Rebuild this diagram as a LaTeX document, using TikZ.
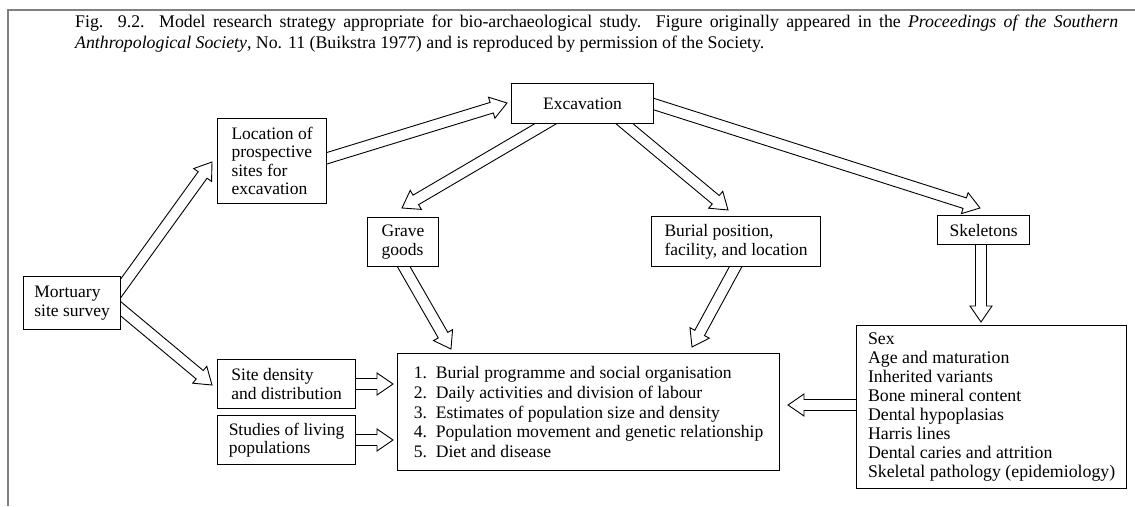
\documentclass[tikz,border=0pt]{standalone}
\usepackage{fontspec}
\setmainfont{Liberation Serif}
\usetikzlibrary{calc}
\pgfdeclarelayer{background}
\pgfsetlayers{background,main}

% dimensions of the hollow block arrows
\newcommand{\shafthalf}{5.5pt}
\newcommand{\headhalf}{11pt}
\newcommand{\headlen}{16pt}

% hollow block arrow from coordinate #1 to tip #2
\newcommand{\blockarrow}[2]{%
  \coordinate (#1-#2-h) at ($(#2)!\headlen!(#1)$);
  \filldraw[arrowbody]
    ($(#1)!\shafthalf!90:(#2)$) --
    ($(#1-#2-h)!\shafthalf!90:(#2)$) --
    ($(#1-#2-h)!\headhalf!90:(#2)$) --
    (#2) --
    ($(#1-#2-h)!\headhalf!-90:(#2)$) --
    ($(#1-#2-h)!\shafthalf!-90:(#2)$) --
    ($(#1)!\shafthalf!-90:(#2)$) -- cycle;
}

\tikzset{
  box/.style={draw, line width=1.2pt, fill=white, anchor=north west,
    align=left, inner sep=2pt, font=\fontsize{17.5}{18.5}\selectfont},
  listbox/.style={box, font=\fontsize{17.6}{19.8}\selectfont},
  arrowbody/.style={draw, fill=white, line width=0.9pt, line join=miter},
  frameline/.style={draw=black!50, line width=2pt},
  caption/.style={anchor=north west, inner sep=0pt, align=left,
    font=\fontsize{17.8}{21}\selectfont},
}

\newcommand{\itemno}[1]{\makebox[22pt][l]{#1}}

\begin{document}
\begin{tikzpicture}[x=1pt, y=-1pt]
\useasboundingbox (0,0) rectangle (1135,506);

% page frame
\draw[frameline] (8,506) -- (8,10) -- (1135,10);

% caption, first line justified to the full measure
\node[caption] (cap) at (75,15) {\makebox[1043pt][s]{Fig. 9.2. Model research strategy appropriate for bio-archaeological study. Figure originally appeared in the \textit{Proceedings of the Southern}}\\
\textit{Anthropological Society}, No. 11 (Buikstra 1977) and is reproduced by permission of the Society.};

% boxes
\node[box, minimum width=97pt, minimum height=53pt] (mort) at (23,276) {Mortuary\\site survey};
\node[box, minimum width=109pt, minimum height=85pt] (loc) at (217,118) {Location of\\prospective\\sites for\\excavation};
\node[box, minimum width=142pt, minimum height=40pt] (exc) at (511,83) {Excavation};
\node[box, minimum width=71pt, minimum height=49pt] (gg) at (367,217) {Grave\\goods};
\node[box, minimum width=169pt, minimum height=50pt] (bp) at (651,216) {Burial position,\\facility, and location};
\node[box, minimum width=92pt, minimum height=29pt] (sk) at (937,215) {Skeletons};
\node[box, minimum width=138pt, minimum height=49pt] (sd) at (217,359) {Site density\\and distribution};
\node[box, minimum width=138pt, minimum height=49pt] (slp) at (217,415) {Studies of living\\populations};
\node[listbox, minimum width=382pt, minimum height=117pt] (res) at (397,353) {%
  \itemno{1.}Burial programme and social organisation\\
  \itemno{2.}Daily activities and division of labour\\
  \itemno{3.}Estimates of population size and density\\
  \itemno{4.}Population movement and genetic relationship\\
  \itemno{5.}Diet and disease};
\node[box, font=\fontsize{17.8}{19.1}\selectfont, minimum width=270pt, minimum height=163pt] (ind) at (856,325) {%
  Sex\\
  Age and maturation\\
  Inherited variants\\
  Bone mineral content\\
  Dental hypoplasias\\
  Harris lines\\
  Dental caries and attrition\\
  Skeletal pathology (epidemiology)};

% arrow ends
\coordinate (a1s) at ([shift={(77,41)}]mort.north west);
\coordinate (a1t) at ([shift={(-5,44)}]loc.north west);
\coordinate (a2s) at ([shift={(77,15.5)}]mort.north west);
\coordinate (a2t) at ([shift={(-5,26)}]sd.north west);
\coordinate (a3s) at ([shift={(83,48.5)}]loc.north west);
\coordinate (a3t) at ([shift={(-4,20)}]exc.north west);
\coordinate (a4s) at ([shift={(58,27)}]exc.north west);
\coordinate (a4t) at ([shift={(35,-9)}]gg.north west);
\coordinate (a5s) at ([shift={(97,27)}]exc.north west);
\coordinate (a5t) at ([shift={(77,-6)}]bp.north west);
\coordinate (a6s) at ([shift={(119,13.5)}]exc.north west);
\coordinate (a6t) at ([shift={(43,-7)}]sk.north west);
\coordinate (a7s) at ([shift={(30,38)}]gg.north west);
\coordinate (a7t) at ([shift={(54,-4)}]res.north west);
\coordinate (a8s) at ([shift={(91,39)}]bp.north west);
\coordinate (a8t) at ([shift={(295,-6)}]res.north west);
\coordinate (a9s) at ([shift={(44,20)}]sk.north west);
\coordinate (a9t) at ([shift={(125,-3)}]ind.north west);
\coordinate (a10s) at ([shift={(123,25)}]sd.north west);
\coordinate (a10t) at ([shift={(-4,31)}]res.north west);
\coordinate (a11s) at ([shift={(123,25)}]slp.north west);
\coordinate (a11t) at ([shift={(-4,87)}]res.north west);
\coordinate (a12s) at ([shift={(14,80)}]ind.north west);
\coordinate (a12t) at ([shift={(391,52)}]res.north west);

% arrows, behind the boxes
\begin{pgfonlayer}{background}
  \blockarrow{a1s}{a1t}
  \blockarrow{a2s}{a2t}
  \blockarrow{a3s}{a3t}
  \blockarrow{a4s}{a4t}
  \blockarrow{a5s}{a5t}
  \blockarrow{a6s}{a6t}
  \blockarrow{a7s}{a7t}
  \blockarrow{a8s}{a8t}
  \blockarrow{a9s}{a9t}
  \blockarrow{a10s}{a10t}
  \blockarrow{a11s}{a11t}
  \blockarrow{a12s}{a12t}
\end{pgfonlayer}
\end{tikzpicture}
\end{document}
